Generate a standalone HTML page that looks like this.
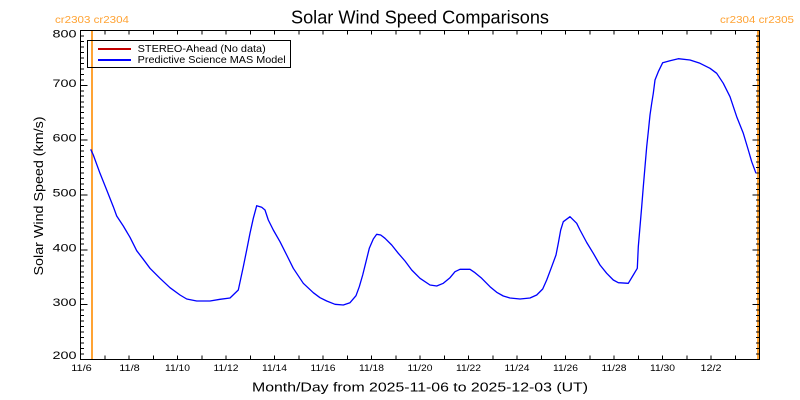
<!DOCTYPE html>
<html>
<head>
<meta charset="utf-8">
<style>
html,body{margin:0;padding:0;background:#fff;}
svg{display:block;}
text{font-family:"Liberation Sans","DejaVu Sans",sans-serif;}
</style>
</head>
<body>
<svg width="800" height="400" viewBox="0 0 800 400" xmlns="http://www.w3.org/2000/svg">
<rect x="0" y="0" width="800" height="400" fill="#ffffff"/>

<!-- Title -->
<text x="291" y="23.5" font-size="18" textLength="258" lengthAdjust="spacingAndGlyphs" fill="#000">Solar Wind Speed Comparisons</text>

<!-- Carrington labels -->
<text x="55" y="23" font-size="10.5" textLength="74" lengthAdjust="spacingAndGlyphs" fill="#ffa334">cr2303 cr2304</text>
<text x="720" y="23" font-size="10.5" textLength="74" lengthAdjust="spacingAndGlyphs" fill="#ffa334">cr2304 cr2305</text>

<!-- Orange boundary lines -->
<rect x="91" y="30" width="2" height="329.5" fill="#ffa334"/>
<rect x="757" y="30" width="2" height="329.5" fill="#ffa334"/>

<!-- Axes box -->
<g shape-rendering="crispEdges" stroke="#000" stroke-width="1" fill="none">
<rect x="80.5" y="30.5" width="679" height="329"/>
<!-- x ticks bottom -->
<path d="M104.75 359.5v-4M129 359.5v-4M153.25 359.5v-4M177.5 359.5v-4M201.75 359.5v-4M226 359.5v-4M250.25 359.5v-4M274.5 359.5v-4M298.75 359.5v-4M323 359.5v-4M347.25 359.5v-4M371.5 359.5v-4M395.75 359.5v-4M420 359.5v-4M444.25 359.5v-4M468.5 359.5v-4M492.75 359.5v-4M517 359.5v-4M541.25 359.5v-4M565.5 359.5v-4M589.75 359.5v-4M614 359.5v-4M638.25 359.5v-4M662.5 359.5v-4M686.75 359.5v-4M711 359.5v-4M735.25 359.5v-4"/>
<!-- x ticks top -->
<path d="M104.75 30.5v4M129 30.5v4M153.25 30.5v4M177.5 30.5v4M201.75 30.5v4M226 30.5v4M250.25 30.5v4M274.5 30.5v4M298.75 30.5v4M323 30.5v4M347.25 30.5v4M371.5 30.5v4M395.75 30.5v4M420 30.5v4M444.25 30.5v4M468.5 30.5v4M492.75 30.5v4M517 30.5v4M541.25 30.5v4M565.5 30.5v4M589.75 30.5v4M614 30.5v4M638.25 30.5v4M662.5 30.5v4M686.75 30.5v4M711 30.5v4M735.25 30.5v4"/>
<!-- y major ticks left -->
<path d="M80.5 304.5h7M80.5 250h7M80.5 195h7M80.5 140h7M80.5 85.5h7"/>
<!-- y major ticks right -->
<path d="M759.5 304.5h-7M759.5 250h-7M759.5 195h-7M759.5 140h-7M759.5 85.5h-7"/>
<!-- y minor ticks left -->
<path d="M80.5 354h3.5M80.5 348.5h3.5M80.5 343h3.5M80.5 337.5h3.5M80.5 332h3.5M80.5 326.5h3.5M80.5 321h3.5M80.5 315.5h3.5M80.5 310h3.5M80.5 299h3.5M80.5 293.5h3.5M80.5 288h3.5M80.5 282.5h3.5M80.5 277h3.5M80.5 272h3.5M80.5 266h3.5M80.5 261h3.5M80.5 255h3.5M80.5 244h3.5M80.5 239h3.5M80.5 233h3.5M80.5 228h3.5M80.5 222h3.5M80.5 217h3.5M80.5 211h3.5M80.5 206h3.5M80.5 200h3.5M80.5 189.5h3.5M80.5 184h3.5M80.5 178.5h3.5M80.5 173h3.5M80.5 167.5h3.5M80.5 162h3.5M80.5 156.5h3.5M80.5 151h3.5M80.5 145.5h3.5M80.5 134.5h3.5M80.5 129h3.5M80.5 123.5h3.5M80.5 118h3.5M80.5 112.5h3.5M80.5 107h3.5M80.5 102h3.5M80.5 96h3.5M80.5 91h3.5M80.5 80h3.5M80.5 74.5h3.5M80.5 69h3.5M80.5 63.5h3.5M80.5 58h3.5M80.5 52.5h3.5M80.5 47h3.5M80.5 41.5h3.5M80.5 36h3.5"/>
<!-- y minor ticks right -->
<path d="M759.5 354h-3.5M759.5 348.5h-3.5M759.5 343h-3.5M759.5 337.5h-3.5M759.5 332h-3.5M759.5 326.5h-3.5M759.5 321h-3.5M759.5 315.5h-3.5M759.5 310h-3.5M759.5 299h-3.5M759.5 293.5h-3.5M759.5 288h-3.5M759.5 282.5h-3.5M759.5 277h-3.5M759.5 272h-3.5M759.5 266h-3.5M759.5 261h-3.5M759.5 255h-3.5M759.5 244h-3.5M759.5 239h-3.5M759.5 233h-3.5M759.5 228h-3.5M759.5 222h-3.5M759.5 217h-3.5M759.5 211h-3.5M759.5 206h-3.5M759.5 200h-3.5M759.5 189.5h-3.5M759.5 184h-3.5M759.5 178.5h-3.5M759.5 173h-3.5M759.5 167.5h-3.5M759.5 162h-3.5M759.5 156.5h-3.5M759.5 151h-3.5M759.5 145.5h-3.5M759.5 134.5h-3.5M759.5 129h-3.5M759.5 123.5h-3.5M759.5 118h-3.5M759.5 112.5h-3.5M759.5 107h-3.5M759.5 102h-3.5M759.5 96h-3.5M759.5 91h-3.5M759.5 80h-3.5M759.5 74.5h-3.5M759.5 69h-3.5M759.5 63.5h-3.5M759.5 58h-3.5M759.5 52.5h-3.5M759.5 47h-3.5M759.5 41.5h-3.5M759.5 36h-3.5"/>
</g>

<!-- Y tick labels -->
<g font-size="11" fill="#000" text-anchor="end">
<text x="76.5" y="37.3" textLength="24" lengthAdjust="spacingAndGlyphs">800</text>
<text x="76.5" y="87" textLength="24" lengthAdjust="spacingAndGlyphs">700</text>
<text x="76.5" y="141.5" textLength="24" lengthAdjust="spacingAndGlyphs">600</text>
<text x="76.5" y="196.5" textLength="24" lengthAdjust="spacingAndGlyphs">500</text>
<text x="76.5" y="251.5" textLength="24" lengthAdjust="spacingAndGlyphs">400</text>
<text x="76.5" y="306" textLength="24" lengthAdjust="spacingAndGlyphs">300</text>
<text x="76.5" y="359" textLength="24" lengthAdjust="spacingAndGlyphs">200</text>
</g>

<!-- X tick labels -->
<g font-size="9" fill="#000" text-anchor="middle">
<text x="81.5" y="371" textLength="20.5" lengthAdjust="spacingAndGlyphs">11/6</text>
<text x="129.5" y="371" textLength="20.5" lengthAdjust="spacingAndGlyphs">11/8</text>
<text x="177.5" y="371" textLength="25" lengthAdjust="spacingAndGlyphs">11/10</text>
<text x="226" y="371" textLength="25" lengthAdjust="spacingAndGlyphs">11/12</text>
<text x="274.5" y="371" textLength="25" lengthAdjust="spacingAndGlyphs">11/14</text>
<text x="323" y="371" textLength="25" lengthAdjust="spacingAndGlyphs">11/16</text>
<text x="371.5" y="371" textLength="25" lengthAdjust="spacingAndGlyphs">11/18</text>
<text x="420" y="371" textLength="25" lengthAdjust="spacingAndGlyphs">11/20</text>
<text x="468.5" y="371" textLength="25" lengthAdjust="spacingAndGlyphs">11/22</text>
<text x="517" y="371" textLength="25" lengthAdjust="spacingAndGlyphs">11/24</text>
<text x="565.5" y="371" textLength="25" lengthAdjust="spacingAndGlyphs">11/26</text>
<text x="614" y="371" textLength="25" lengthAdjust="spacingAndGlyphs">11/28</text>
<text x="662.5" y="371" textLength="25" lengthAdjust="spacingAndGlyphs">11/30</text>
<text x="711" y="371" textLength="21" lengthAdjust="spacingAndGlyphs">12/2</text>
</g>

<!-- Axis titles -->
<text x="252" y="391.5" font-size="12.5" textLength="336" lengthAdjust="spacingAndGlyphs" fill="#000">Month/Day from 2025-11-06 to 2025-12-03 (UT)</text>
<text transform="translate(43,196) rotate(-90)" x="0" y="0" font-size="12.5" text-anchor="middle" textLength="159" lengthAdjust="spacingAndGlyphs" fill="#000">Solar Wind Speed (km/s)</text>

<!-- Legend -->
<rect x="87.5" y="40.5" width="203" height="27" fill="none" stroke="#000" stroke-width="1" shape-rendering="crispEdges"/>
<line x1="98" y1="49" x2="131" y2="49" stroke="#c40000" stroke-width="2"/>
<line x1="98" y1="60" x2="131" y2="60" stroke="#0000ff" stroke-width="2"/>
<text x="137.7" y="52" font-size="10.5" textLength="128" lengthAdjust="spacingAndGlyphs" fill="#000">STEREO-Ahead (No data)</text>
<text x="137.7" y="63" font-size="10.5" textLength="148" lengthAdjust="spacingAndGlyphs" fill="#000">Predictive Science MAS Model</text>

<!-- Data series -->
<polyline fill="none" stroke="#0000ff" stroke-width="1.3" stroke-linejoin="round" points="
90.7,149.3 93.3,155 100,173.3 106.7,190 113.3,206.7 116.7,216 123.3,226 130,237.3 136.7,250.7 143.3,259.3 150,268.3 160,278.3 170,287.7 180,295 186.7,299 196.7,301 210,301 220,299.3 230,298 238.3,290 243.3,266.7 246.7,250 250,233.3 253.3,218.3 256.7,205.7 261.7,207.3 265,210 268.3,220 273.3,230 280,241.7 286.7,255 293.3,268.3 303.3,283.3 313.3,292.7 320,297.7 326.7,301 335,304.3 343.3,305 350,302.7 356,295.7 359.3,286.7 362.7,275 366,261.7 369.3,248.3 373.3,239 376.7,234.3 380.7,235 385,238.3 391.7,245 398.3,253.3 405,261 411.7,270 420,278.3 430,285 436.7,286 443.3,283.3 450,277.7 455,271.7 460,269.3 470,269.3 475,272.7 481.7,278.3 490,286.7 496.7,292.3 503.3,296 510,298 520,299 530,298 536.7,295 542.7,289 546.7,280 551.7,266.7 556,255 558.3,243.3 560.7,230 563.3,221.7 570,216.7 576.7,223.3 580,230 586.7,242.5 593.3,253.3 600,265 606.7,273.3 613.3,280 618.3,282.7 628.3,283.3 633.3,275 637.3,268.3 638.3,246.7 640,226.7 641.7,206.7 643.3,186.7 645,166.7 646.7,146.7 648.3,131.7 650,115 651.7,103.3 653.3,93.3 655,80 658.3,71.7 662.7,62.7 670,60.7 678.3,58.7 690,60 700,63.3 710,68.3 716.7,73.3 723.3,83.3 730,96.7 736.7,116.7 743.3,133.3 748.3,150 751.7,161.7 756,173.3"/>
</svg>
</body>
</html>
